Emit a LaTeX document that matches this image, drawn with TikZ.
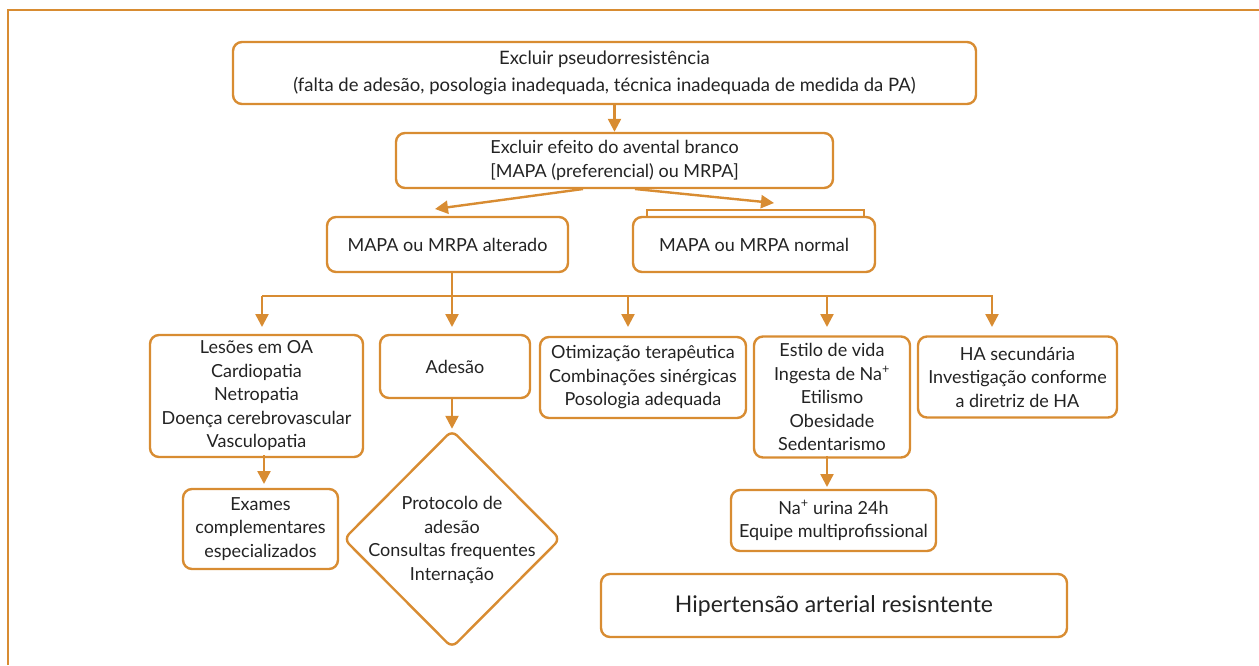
\documentclass[tikz,border=0pt]{standalone}
\usepackage{fontspec}
\setmainfont{Lato}
\usetikzlibrary{arrows.meta,shapes.geometric}
\definecolor{org}{RGB}{216,140,50}
\definecolor{txt}{RGB}{35,35,35}
\tikzset{
  box/.style={draw=org, line width=2.4pt, rounded corners=9pt, fill=white, inner sep=0pt, align=center, text=txt, font=\fontsize{18}{23.5}\selectfont},
  label/.style={inner sep=0pt, align=center, text=txt, font=\fontsize{18}{23.5}\selectfont},
  conn/.style={draw=org, line width=2.4pt},
  arr/.style={conn, -{Triangle[length=13pt,width=13pt]}},
}
\begin{document}
\begin{tikzpicture}[x=1pt,y=-1pt]
\useasboundingbox (0,0) rectangle (1259,665);
\draw[org, line width=2.2pt] (8,665) -- (8,10) -- (1259,10);
% boxes
\node[box, minimum width=743pt, minimum height=62pt, font=\fontsize{18.5}{27}\selectfont] (a) at (604.5,73) {Excluir pseudorresistência\\(falta de adesão, posologia inadequada, técnica inadequada de medida da PA)};
\node[box, minimum width=437pt, minimum height=55pt] (b) at (614.5,160.5) {Excluir efeito do avental branco\\{}[MAPA (preferencial) ou MRPA]};
\node[box, minimum width=241pt, minimum height=55pt] (c) at (447.5,244.5) {MAPA ou MRPA alterado};
\node[box, minimum width=242pt, minimum height=55pt] (d) at (754,244.5) {MAPA ou MRPA normal};
\node[box, minimum width=213pt, minimum height=122pt] (e) at (256.5,396) {Lesões em OA\\Cardiopatia\\Netropatia\\Doença cerebrovascular\\Vasculopatia};
\node[box, minimum width=150pt, minimum height=63pt] (f) at (455,366.5) {Adesão};
\node[box, minimum width=206pt, minimum height=81pt] (g) at (643,377.5) {Otimização terapêutica\\Combinações sinérgicas\\Posologia adequada};
\node[box, minimum width=156pt, minimum height=121pt] (h) at (832,397) {Estilo de vida\\Ingesta de Na\textsuperscript{+}\\Etilismo\\Obesidade\\Sedentarismo};
\node[box, minimum width=199pt, minimum height=81pt] (i) at (1017.5,377) {HA secundária\\Investigação conforme\\a diretriz de HA};
\node[box, minimum width=155pt, minimum height=80pt] (j) at (260.5,529) {Exames\\complementares\\especializados};
\node[draw=org, line width=2.4pt, diamond, rounded corners=7pt, minimum width=217pt, minimum height=218pt, inner sep=0pt, aspect=1] (k) at (452,539) {};
\node[label] (kt) at (452,540) {Protocolo de\\adesão\\Consultas frequentes\\Internação};
\node[box, minimum width=205pt, minimum height=61pt] (l) at (833.5,520.5) {Na\textsuperscript{+} urina 24h\\Equipe multiprofissional};
\node[box, minimum width=466pt, minimum height=63pt, font=\fontsize{23}{27}\selectfont] (m) at (834,605.5) {Hipertensão arterial resisntente};
% connectors
\draw[arr] (a.south -| b.north) -- (b.north);
\coordinate (bl) at (583,189);
\coordinate (br) at (635,189);
\coordinate (cl) at (435,209);
\coordinate (dr) at (774,203);
\draw[arr] (bl) -- (cl);
\draw[arr] (br) -- (dr);
\draw[conn] (647,217) -- (647,210) -- (864,210) -- (864,217);
\coordinate (bus) at (452,296);
\draw[conn] (c.south -| bus) -- (bus);
\draw[conn] (262,296) -- (993,296);
\draw[arr] (262,296) -- (262,327);
\draw[arr] (bus) -- (452,327);
\draw[arr] (628,296) -- (628,327);
\draw[arr] (827,296) -- (827,327);
\draw[arr] (992,296) -- (992,327);
\draw[arr] (264,455) -- (264,484);
\draw[arr] (f.south -| k.north) -- (k.north);
\draw[arr] (827,456) -- (827,487);
\end{tikzpicture}
\end{document}
